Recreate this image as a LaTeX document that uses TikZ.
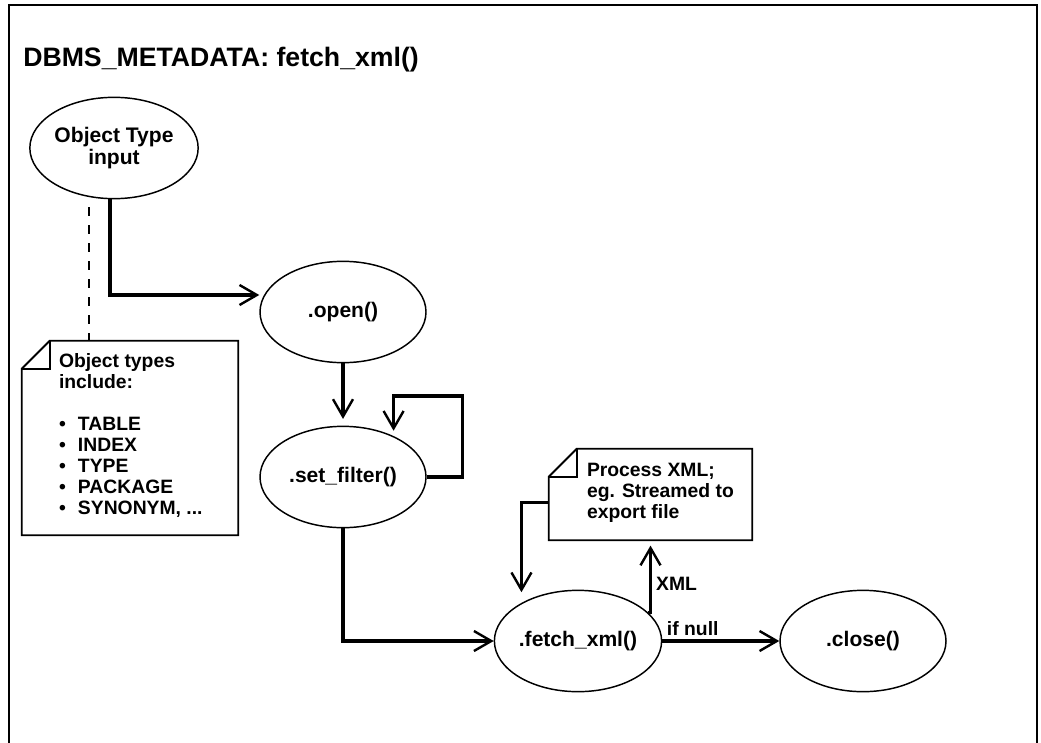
\documentclass[tikz,border=0pt]{standalone}
\usepackage{fontspec}
\setmainfont{Liberation Sans}
\usetikzlibrary{shapes.geometric, arrows.meta, positioning, calc}
\newcommand{\typebullet}{\makebox[14.25pt][l]{\textbullet}}
\tikzset{
  proc/.style={ellipse, draw, line width=1.1pt,
    minimum width=124.5pt, minimum height=76pt, inner sep=0pt,
    align=center, font=\fontsize{15.8}{16}\selectfont\bfseries},
  notebox/.style={rectangle, inner sep=0pt},
  notetext/.style={align=left, inner sep=0pt,
    font=\fontsize{14.5}{15.75}\selectfont\bfseries},
  noteline/.style={line width=1.4pt, line join=miter},
  conn/.style={-{Straight Barb[length=13pt, width=15pt, line width=1.8pt]},
    line width=2.5pt},
  dashline/.style={line width=1.6pt, dash pattern=on 7pt off 6.5pt},
  lbl/.style={font=\fontsize{14.5}{16}\selectfont\bfseries, inner sep=3pt},
  frame/.style={line width=2pt}
}

\begin{document}
\begin{tikzpicture}[x=0.75pt, y=-0.75pt]
  \useasboundingbox[fill=white] (0,0) rectangle (1041,742);
  % outer frame, open at the bottom
  \draw[frame] (9,746) -- (9,5) -- (1037,5) -- (1037,746);

  % title
  \node[anchor=base west, inner sep=0pt, font=\fontsize{20}{24}\selectfont\bfseries]
    (title) at (23,66) {DBMS\_METADATA: fetch\_xml()};

  % calls
  \node[proc] (objtype) at (114,148) {Object Type\\input};
  \node[proc] (open) at (343,312) {.open()};
  \node[proc] (setfilter) at (343,477) {.set\_filter()};
  \node[proc] (fetch) at (578,641) {.fetch\_xml()};
  \node[proc] (close) at (863,641) {.close()};

  % notes with folded corner
  \node[notebox, minimum width=162pt, minimum height=145.5pt] (typesnote) at (130,438) {};
  \draw[noteline] ($(typesnote.north west)+(0,28)$) -- ($(typesnote.north west)+(28,0)$)
    -- (typesnote.north east) -- (typesnote.south east) -- (typesnote.south west) -- cycle;
  \draw[noteline] ($(typesnote.north west)+(0,28)$) -| ($(typesnote.north west)+(28,0)$);
  \node[notetext, anchor=north west] (typestext) at ($(typesnote.north west)+(37,12)$)
    {Object types\\include:\\[15.75pt]
     \typebullet TABLE\\\typebullet INDEX\\\typebullet TYPE\\
     \typebullet PACKAGE\\\typebullet SYNONYM, ...};

  \node[notebox, minimum width=152.25pt, minimum height=68.25pt] (xmlnote) at (650.5,494.5) {};
  \draw[noteline] ($(xmlnote.north west)+(0,28)$) -- ($(xmlnote.north west)+(28,0)$)
    -- (xmlnote.north east) -- (xmlnote.south east) -- (xmlnote.south west) -- cycle;
  \draw[noteline] ($(xmlnote.north west)+(0,28)$) -| ($(xmlnote.north west)+(28,0)$);
  \node[notetext, anchor=north west] (xmltext) at ($(xmlnote.north west)+(38,14)$)
    {Process XML;\\eg. Streamed to\\export file};

  % connectors
  \coordinate (dashtop) at (89,207);
  \draw[dashline] (dashtop) -- (dashtop |- typesnote.north);
  \draw[conn] ($(objtype.south)+(-4,0)$) |- ($(open.west)+(0,-17)$);
  \draw[conn, shorten >=5pt] (open.south) -- (setfilter.north);
  \draw[conn, shorten >=4pt] (setfilter.east) -- ++(36,0) |- ($(setfilter.39)+(0,-40)$)
    -- (setfilter.39);
  \draw[conn] (setfilter.south) |- (fetch.west);
  \draw[conn] (fetch.east) -- node[lbl, above, pos=0.26] {if null} (close.west);
  \draw[conn, shorten >=8pt] ($(xmlnote.west)+(0,8)$) -| (fetch.146);
  \draw[conn, shorten >=4pt] (fetch.22) -| node[lbl, right, pos=0.7] {XML} (xmlnote.south);
\end{tikzpicture}
\end{document}
